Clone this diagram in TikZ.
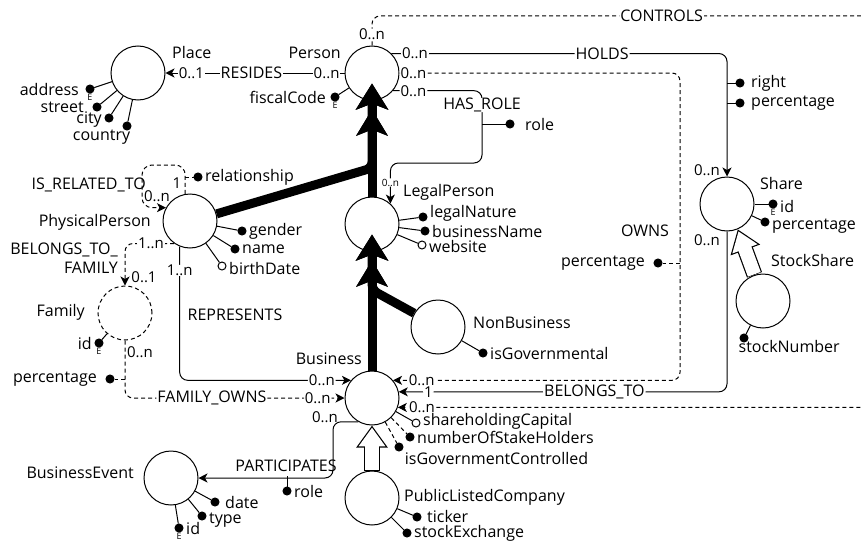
\documentclass[tikz,border=0pt]{standalone}
\usepackage{fontspec}
\setmainfont{Open Sans}
\usetikzlibrary{arrows.meta}
\begin{document}
\begin{tikzpicture}[x=1pt,y=-1pt,
    every node/.style={font=\fontsize{16}{19}\selectfont},
    entity/.style={circle,draw,line width=1pt,fill=white,minimum size=54pt,inner sep=0pt},
    weak/.style={entity,dash pattern=on 4pt off 3pt},
    ename/.style={inner sep=0pt},
    rname/.style={inner xsep=1pt,inner ysep=0pt},
    lrname/.style={rname,fill=white},
    attr/.style={circle,draw,line width=1pt,fill=black,minimum size=8pt,inner sep=0pt},
    optattr/.style={attr,fill=white},
    lbl/.style={inner xsep=2.5pt,inner ysep=0pt},
    ident/.style={label={[font=\fontsize{9}{9}\selectfont,inner sep=0pt,label distance=.3pt]below:E}},
    card/.style={inner xsep=1pt,inner ysep=0pt,font=\fontsize{15}{17}\selectfont},
    lcard/.style={card,fill=white},
    smallcard/.style={lcard,inner sep=.5pt,font=\fontsize{10}{12}\selectfont},
    rel/.style={line width=1pt},
    dsh/.style={rel,dash pattern=on 4pt off 3pt},
    relarrow/.style={-{Stealth[length=9pt,width=9pt,inset=2.5pt]}},
    isa/.style={line width=9pt,-{Stealth[length=26pt,width=31pt,inset=6pt] Stealth[length=26pt,width=32pt,inset=6pt,sep=-17pt]}},
    isaOut/.style={line width=16pt,-{Triangle[length=22pt,width=30pt]}},
    isaIn/.style={line width=13.6pt,white,shorten >=2.1pt,shorten <=.6pt,-{Triangle[length=18.7pt,width=25.5pt]}}]
  \useasboundingbox (0,0) rectangle (861,543);
  \clip (0,0) rectangle (861,543);

  \node[entity] (place) at (138,73) {};
  \node[entity] (person) at (372,73) {};
  \node[entity] (physicalPerson) at (190,221) {};
  \node[entity] (legalPerson) at (372,224) {};
  \node[entity] (nonBusiness) at (438,327) {};
  \node[weak] (family) at (125,313) {};
  \node[entity] (business) at (372,398) {};
  \node[entity] (publicListedCompany) at (372,498) {};
  \node[entity] (businessEvent) at (171,478) {};
  \node[entity] (share) at (727,204) {};
  \node[entity] (stockShare) at (763,301) {};

  \node[ename,anchor=west] (placeName) at (172,53) {Place};
  \node[ename,anchor=east] (personName) at (341,53) {Person};
  \node[ename,anchor=east] (physicalPersonName) at (151,222) {PhysicalPerson};
  \node[ename,anchor=west] (legalPersonName) at (403,192) {LegalPerson};
  \node[ename,anchor=west] (nonBusinessName) at (473,323) {NonBusiness};
  \node[ename,anchor=east] (familyName) at (85,312) {Family};
  \node[ename,anchor=east] (businessName) at (362,359) {Business};
  \node[ename,anchor=west] (plcName) at (404,497) {PublicListedCompany};
  \node[ename,anchor=east] (businessEventName) at (134,473) {BusinessEvent};
  \node[ename,anchor=west] (shareName) at (760,183) {Share};
  \node[ename,anchor=west] (stockShareName) at (771,260) {StockShare};

  \node[attr,ident,label={[lbl,label distance=4pt]left:address}] (placeAddress) at (90,89) {};
  \node[attr,label={[lbl,label distance=6pt]left:street}] (placeStreet) at (97,107) {};
  \node[attr,label={[lbl,yshift=-2pt]left:city}] (placeCity) at (109,118) {};
  \node[attr,label={[lbl,xshift=9pt,yshift=-1pt]below left:country}] (placeCountry) at (127,126) {};
  \node[attr,ident,label={[lbl,label distance=2pt]left:fiscalCode}] (personFiscalCode) at (335,97) {};
  \node[attr,label={[lbl]right:gender}] (ppGender) at (242,231) {};
  \node[attr,label={[lbl]right:name}] (ppName) at (235,249) {};
  \node[optattr,label={[lbl,yshift=-2pt]right:birthDate}] (ppBirthDate) at (222,266) {};
  \node[attr,label={[lbl]right:relationship}] (ppRelationship) at (198,177) {};
  \node[attr,label={[lbl,yshift=4pt]right:legalNature}] (lpLegalNature) at (423,217) {};
  \node[attr,label={[lbl]right:businessName}] (lpBusinessName) at (425,231) {};
  \node[optattr,label={[lbl,yshift=-1pt]right:website}] (lpWebsite) at (422,245) {};
  \node[attr,label={[lbl]right:isGovernmental}] (nbIsGovernmental) at (483,353) {};
  \node[attr,ident,label={[lbl]left:id}] (familyId) at (99,343) {};
  \node[optattr,label={[lbl,yshift=2pt]right:shareholdingCapital}] (bizCapital) at (416,423) {};
  \node[attr,label={[lbl]right:numberOfStakeHolders}] (bizStakeHolders) at (410,437) {};
  \node[attr,label={[lbl,yshift=-2pt]below right:isGovernmentControlled}] (bizGovControlled) at (399,447) {};
  \node[attr,label={[lbl,label distance=3pt,yshift=1pt]right:ticker}] (plcTicker) at (417,517) {};
  \node[attr,label={[lbl]right:stockExchange}] (plcStockExchange) at (407,533) {};
  \node[attr,label={[lbl,label distance=3pt]right:date}] (beDate) at (215,502) {};
  \node[attr,label={[lbl,yshift=-4pt]right:type}] (beType) at (202,516) {};
  \node[attr,ident,label={[lbl]right:id}] (beId) at (179,528) {};
  \node[attr,ident,label={[lbl,yshift=-2pt]right:id}] (shareId) at (773,204) {};
  \node[attr,label={[lbl,yshift=-4pt]right:percentage}] (sharePercentage) at (765,222) {};
  \node[attr,label={[lbl,anchor=north west,xshift=-8pt,yshift=2pt]below:stockNumber}] (ssStockNumber) at (744,338) {};
  \node[attr,label={[lbl,label distance=4pt]right:right}] (holdsRight) at (740,83) {};
  \node[attr,label={[lbl,label distance=4pt]right:percentage}] (holdsPercentage) at (740,103) {};
  \node[attr,label={[lbl,label distance=8pt]right:role}] (hasRoleRole) at (510,124) {};
  \node[attr,label={[lbl,label distance=6pt]left:percentage}] (ownsPercentage) at (658,263) {};
  \node[attr,label={[lbl,label distance=6pt]left:percentage}] (famOwnsPercentage) at (110,379) {};
  \node[attr,label={[lbl]right:role}] (participatesRole) at (287,491) {};

  \coordinate (holdsRightAt) at (727,83);
  \coordinate (holdsPctAt) at (727,103);
  \coordinate (hasRoleAt) at (482,124);
  \coordinate (ownsPctAt) at (680,263);
  \coordinate (famOwnsPctAt) at (125,379);
  \coordinate (participatesAt) at (287,476);
  \coordinate (relatedAt) at (185,177);
  \coordinate (hasRoleTurn) at (482,163);
  \coordinate (ownsTurn) at (680,73);
  \coordinate (controlsTurn) at (880,16);
  \coordinate (participatesTurn) at (333,450);
  \coordinate (relatedTurn) at (142,165);
  \coordinate (isaJoinPerson) at (372,168);
  \coordinate (isaJoinLegal) at (372,290);

  \begin{scope}[rel]
    \draw (place) -- (placeAddress);
    \draw (place) -- (placeStreet);
    \draw (place) -- (placeCity);
    \draw (place) -- (placeCountry);
    \draw (person) -- (personFiscalCode);
    \draw (physicalPerson) -- (ppGender);
    \draw (physicalPerson) -- (ppName);
    \draw (physicalPerson) -- (ppBirthDate);
    \draw (legalPerson) -- (lpLegalNature);
    \draw (legalPerson) -- (lpBusinessName);
    \draw (legalPerson) -- (lpWebsite);
    \draw (nonBusiness) -- (nbIsGovernmental);
    \draw (family) -- (familyId);
    \draw (business) -- (bizCapital);
    \draw[dsh] (business) -- (bizStakeHolders);
    \draw[dsh] (business) -- (bizGovControlled);
    \draw (publicListedCompany) -- (plcTicker);
    \draw (publicListedCompany) -- (plcStockExchange);
    \draw (businessEvent) -- (beDate);
    \draw (businessEvent) -- (beType);
    \draw (businessEvent) -- (beId);
    \draw (share) -- (shareId);
    \draw (share) -- (sharePercentage);
    \draw (stockShare) -- (ssStockNumber);
    \draw (holdsRightAt) -- (holdsRight);
    \draw (holdsPctAt) -- (holdsPercentage);
    \draw (hasRoleAt) -- (hasRoleRole);
    \draw[dsh] (ownsPctAt) -- (ownsPercentage);
    \draw[dsh] (famOwnsPctAt) -- (famOwnsPercentage);
    \draw (participatesAt) -- (participatesRole);
    \draw[dsh] (relatedAt) -- (ppRelationship);
  \end{scope}

  \draw[rel,relarrow] (person) -- node[lcard,pos=.1]{0..n} node[lrname,pos=.52]{RESIDES} node[lcard,pos=.855]{0..1} (place);
  \draw[rel,relarrow,rounded corners=8pt] (person.45) -| node[lcard,pos=.035]{0..n} node[lrname,pos=.314]{HOLDS} (share.north);
  \draw[dsh,relarrow,rounded corners=8pt] (person.east) -- node[lcard,pos=.05]{0..n} (ownsTurn) |- node[lcard,pos=.95]{0..n} (business.40);
  \draw[rel,relarrow,rounded corners=8pt] (person.-40) -| node[lcard,pos=.115]{0..n} node[lrname,pos=.6]{HAS\_ROLE} (hasRoleTurn) -| node[smallcard,pos=.74]{0..n} (legalPerson.48);
  \draw[dsh,relarrow,rounded corners=8pt] (person.north) |- node[lcard,pos=.19]{0..n} node[lrname,pos=.785]{CONTROLS} (controlsTurn) |- node[lcard,pos=.975]{0..n} (business.-20);
  \draw[rel,relarrow,rounded corners=8pt] (share.south) |- node[lcard,pos=.955]{1} node[lrname,pos=.702]{BELONGS\_TO} (business.13);
  \draw[rel,relarrow,rounded corners=8pt] (physicalPerson.248) |- node[lcard,pos=.089]{1..n} node[lcard,pos=.915]{0..n} (business.140);
  \draw[dsh,relarrow,rounded corners=8pt] (family.south) |- node[lrname,pos=.698]{FAMILY\_OWNS} node[lcard,pos=.939]{0..n} (business.west);
  \draw[rel,relarrow,rounded corners=8pt] (business.240) -| (participatesTurn) |- (businessEvent);
  \draw[dsh,relarrow,rounded corners=10pt] (physicalPerson.100) |- (relatedTurn) |- (physicalPerson.151);
  \draw[dsh,relarrow,rounded corners=8pt] (physicalPerson.235) -| node[lcard,pos=.237]{1..n} (family.north);

  \node[card] (holdsCardShare) at (707,170) {0..n};
  \node[card] (belongsCardShare) at (707,240) {0..n};
  \node[card] (familyOwnsCard) at (140,352) {0..n};
  \node[card] (participatesCard) at (325,417) {0..n};
  \node[card] (relatedCardOne) at (177,183) {1};
  \node[card] (relatedCardMany) at (157,196) {0..n};
  \node[card] (belongsFamilyCard) at (144,277) {0..1};
  \node[rname] (ownsName) at (645,231) {OWNS};
  \node[rname] (representsName) at (235,315) {REPRESENTS};
  \node[rname] (participatesName) at (286,466) {PARTICIPATES};
  \node[rname,anchor=east] (relatedName) at (147,185) {IS\_RELATED\_TO};
  \node[rname,anchor=east,align=right] (belongsFamilyName) at (119,258) {BELONGS\_TO\_\\FAMILY};

  \draw[isa,rounded corners=6pt] (physicalPerson.15) -- (isaJoinPerson) -- (person.south);
  \draw[isa] (legalPerson) -- (person);
  \draw[isa] (business) -- (legalPerson);
  \draw[isa,rounded corners=6pt] (nonBusiness.150) -- (isaJoinLegal) -- (legalPerson.south);
  \draw[isaOut] (publicListedCompany) -- (business);
  \draw[isaIn] (publicListedCompany) -- (business);
  \draw[isaOut] (stockShare.108) -- (share.-67);
  \draw[isaIn] (stockShare.108) -- (share.-67);
\end{tikzpicture}
\end{document}
